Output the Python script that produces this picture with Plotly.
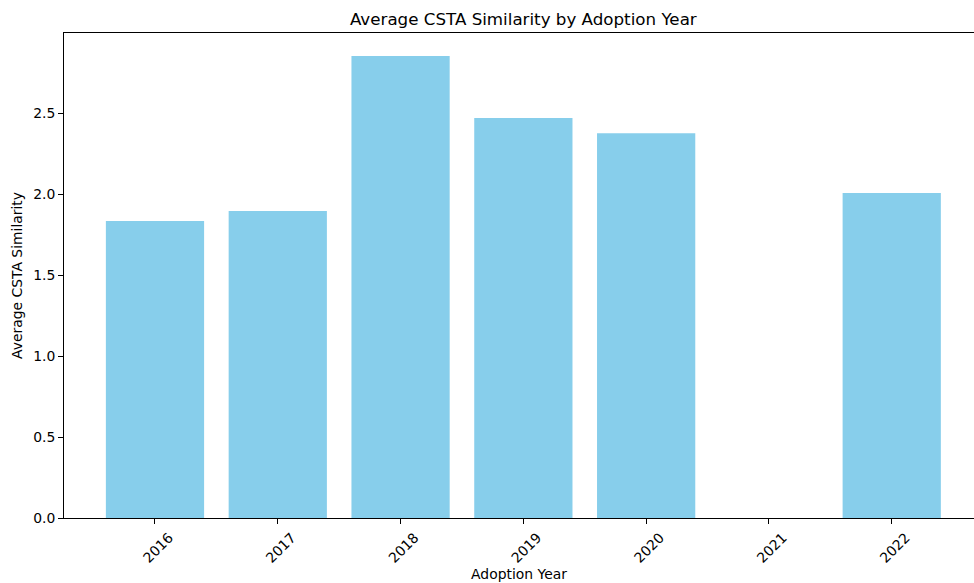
import plotly.graph_objects as go

years = ["2016", "2017", "2018", "2019", "2020", "2021", "2022"]
avg_similarity = [1.833, 1.895, 2.852, 2.469, 2.375, 0.0, 2.006]
y_ticks = [0.0, 0.5, 1.0, 1.5, 2.0, 2.5]

W, H = 974, 583
font = "DejaVu Sans"

fig = go.Figure(
    go.Bar(
        x=list(range(len(years))),
        y=avg_similarity,
        width=0.8,
        marker=dict(color="#87CEEB", line=dict(width=0)),
    )
)

fig.update_layout(
    width=W,
    height=H,
    margin=dict(l=64, r=0, t=33, b=65),
    plot_bgcolor="white",
    paper_bgcolor="white",
    font=dict(family=font, size=14, color="black"),
    showlegend=False,
    title=dict(
        text="Average CSTA Similarity by Adoption Year",
        x=0.5 * (64 + 982.7) / W,
        xanchor="center",
        y=1 - 19 / H,
        yanchor="middle",
        font=dict(size=16.7, family=font),
    ),
)

fig.update_xaxes(
    range=[-0.741, 6.67],
    tickmode="array",
    tickvals=list(range(len(years))),
    ticktext=years,
    tickangle=-45,
    ticks="outside",
    ticklen=5,
    tickcolor="black",
    showline=True,
    linecolor="black",
    linewidth=1,
    mirror=True,
    showgrid=False,
    zeroline=False,
    tickfont=dict(size=13.9),
    ticklabelshift=14,
    title=dict(text="Adoption Year", font=dict(size=13.9), standoff=4),
)

fig.update_yaxes(
    range=[0, 2.994],
    tickmode="array",
    tickvals=y_ticks,
    ticktext=[f"{v:.1f}" for v in y_ticks],
    ticks="outside",
    ticklen=5,
    tickcolor="black",
    showline=True,
    linecolor="black",
    linewidth=1,
    mirror=False,
    showgrid=False,
    zeroline=False,
    tickfont=dict(size=13.9),
    title=dict(text="Average CSTA Similarity", font=dict(size=13.9), standoff=7),
)

fig.write_html(
    "out.html",
    config={"displayModeBar": False},
    post_script="document.body.style.margin='0px';document.body.style.overflow='hidden';",
)
